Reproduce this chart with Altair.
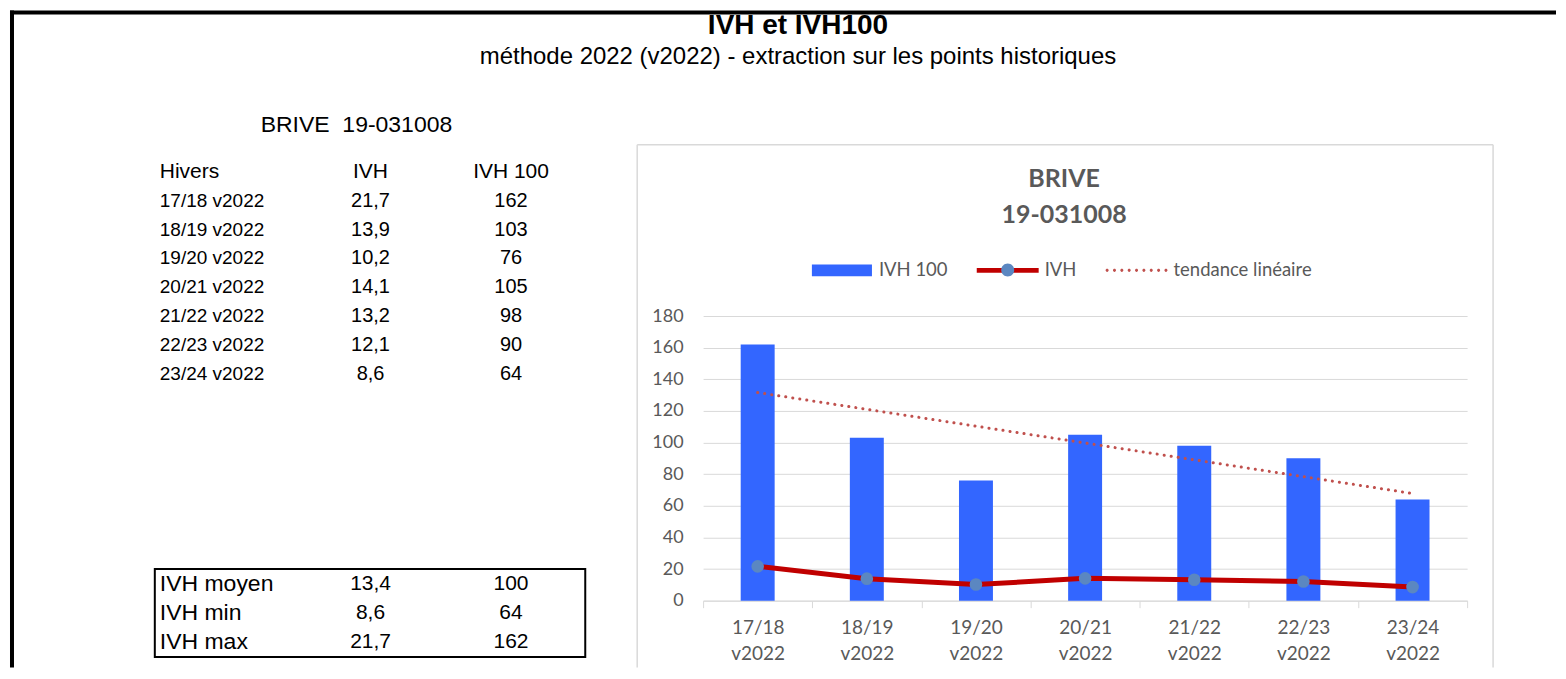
import altair as alt
import pandas as pd

# ---------------- data ----------------
hivers = ["17/18 v2022", "18/19 v2022", "19/20 v2022", "20/21 v2022",
          "21/22 v2022", "22/23 v2022", "23/24 v2022"]
ivh = [21.7, 13.9, 10.2, 14.1, 13.2, 12.1, 8.6]
ivh100 = [162, 103, 76, 105, 98, 90, 64]
headers = ["Hivers", "IVH", "IVH 100"]
summary_labels = ["IVH moyen", "IVH min", "IVH max"]
summary_ivh = [13.4, 8.6, 21.7]
summary_ivh100 = [100, 64, 162]
series_names = ["IVH 100", "IVH", "tendance linéaire"]
y_ticks = [0, 20, 40, 60, 80, 100, 120, 140, 160, 180]
main_title = "IVH et IVH100"
main_subtitle = "méthode 2022 (v2022) - extraction sur les points historiques"
station_title = "BRIVE\u00a0 19-031008"
chart_title = ["BRIVE", "19-031008"]

# ---------------- styles ----------------
FONT_T = "Liberation Sans"
FONT_C = "Lato"
GREY_TXT = "#595959"
GRID = "#D9D9D9"
BAR_C = "#3366FF"
LINE_C = "#C00000"
DOT_C = "#5B87C1"
TREND_C = "#C0504D"


def fr1(v):
    return f"{v:.1f}".replace(".", ",")


cols = ["label", "ivh", "ivh100"]
main_df = pd.DataFrame({"idx": list(range(len(hivers))), "hiver": hivers,
                        "ivh": ivh, "ivh100": ivh100})
head_df = pd.DataFrame({"row": [0, 0, 0], "col": cols, "text": headers})
rows_df = pd.DataFrame({"row": list(range(1, len(hivers) + 1)), "label": hivers,
                        "ivh": [fr1(v) for v in ivh],
                        "ivh100": [str(v) for v in ivh100]}).melt(
    id_vars="row", var_name="col", value_name="text")
sum_df = pd.DataFrame({"row": list(range(len(summary_labels))), "label": summary_labels,
                       "ivh": [fr1(v) for v in summary_ivh],
                       "ivh100": [str(v) for v in summary_ivh100]}).melt(
    id_vars="row", var_name="col", value_name="text")
one = pd.DataFrame({"k": [0]})

# ---------------- left panel: the table ----------------
LEFT_W = 422
BAND = LEFT_W / len(cols)
xcol = alt.Scale(domain=cols, paddingInner=0, paddingOuter=0)
top_y = alt.Scale(domain=[0, 7], range=[-144, 57.6], nice=False)
sum_y = alt.Scale(domain=[0, 2], range=[268, 326.7], nice=False)


def text_layer(df, filt, yscale, size, left):
    if left:
        mk = dict(align="left", dx=-BAND / 2)
    else:
        mk = dict(align="center")
    ch = alt.Chart(df).transform_filter(filt).mark_text(
        baseline="middle", font=FONT_T, fontSize=size, color="black", **mk)
    return ch.encode(x=alt.X("col:N", scale=xcol, axis=None),
                     y=alt.Y("row:Q", scale=yscale, axis=None), text="text:N")


def rule(color, width, **enc):
    return alt.Chart(one).mark_rule(color=color, strokeWidth=width).encode(
        **{k: alt.value(v) for k, v in enc.items()})


frame_left = rule("black", 4, x=-148, y=-306, y2=352)
frame_top = rule("black", 4, x=-150, x2=1398, y=-304)
box_l = rule(GRID, 1.5, x=478, y=-171.5, y2=352)
box_t = rule(GRID, 1.5, x=478, x2=1335, y=-171.5)
box_r = rule(GRID, 1.5, x=1335, y=-171.5, y2=352)

sum_box = alt.Chart(one).mark_rect(fillOpacity=0, stroke="black", strokeWidth=2).encode(
    x=alt.value(-5), x2=alt.value(426),
    y=alt.YDatum(datum=-0.5, scale=sum_y, axis=None),
    y2=alt.Y2Datum(datum=2.5))

left = alt.layer(
    frame_left, frame_top, box_l, box_t, box_r,
    text_layer(head_df, "datum.col == 'label'", top_y, 21, True),
    text_layer(head_df, "datum.col != 'label'", top_y, 21, False),
    text_layer(rows_df, "datum.col == 'label'", top_y, 19, True),
    text_layer(rows_df, "datum.col != 'label'", top_y, 20, False),
    sum_box,
    text_layer(sum_df, "datum.col == 'label'", sum_y, 23, True),
    text_layer(sum_df, "datum.col != 'label'", sum_y, 21, False),
).resolve_scale(y="independent").properties(
    width=LEFT_W, height=285,
    title=alt.Title(station_title, anchor="start", dx=253, offset=-129,
                    font=FONT_T, fontSize=23, fontWeight="normal", color="black"))

# ---------------- right panel: the chart ----------------
x_axis = alt.Axis(title=None, labelAngle=0, labelExpr="split(datum.label, ' ')",
                  labelFont=FONT_C, labelFontSize=19, labelColor=GREY_TXT,
                  labelLineHeight=26, labelPadding=11, ticks=True, tickSize=7,
                  tickColor=GRID, tickBand="extent", domainColor=GRID, grid=False)
y_axis = alt.Axis(title=None, values=y_ticks, grid=True, gridColor=GRID, gridWidth=1,
                  domain=False, ticks=False, tickSize=0, labelPadding=20,
                  labelFont=FONT_C, labelFontSize=18, labelColor=GREY_TXT)
x_enc = alt.X("hiver:N", sort=hivers,
              scale=alt.Scale(domain=hivers, paddingInner=0, paddingOuter=0),
              axis=x_axis)
y_scale = alt.Scale(domain=[0, 180], nice=False)

base = alt.Chart(main_df)
bars = base.mark_bar(color=BAR_C, width=34).encode(
    x=x_enc, y=alt.Y("ivh100:Q", scale=y_scale, axis=y_axis))
line = base.mark_line(color=LINE_C, strokeWidth=5).encode(
    x=x_enc, y=alt.Y("ivh:Q", scale=y_scale, axis=y_axis))
pts = base.mark_point(filled=True, color=DOT_C, size=160, opacity=1).encode(
    x=x_enc, y=alt.Y("ivh:Q", scale=y_scale, axis=y_axis))
trend = base.transform_regression("idx", "ivh100", method="linear").transform_lookup(
    lookup="idx", from_=alt.LookupData(main_df, "idx", ["hiver"])
).mark_line(color=TREND_C, strokeWidth=3, strokeDash=[0.1, 7], strokeCap="round").encode(
    x=x_enc, y=alt.Y("ivh100:Q", scale=y_scale, axis=y_axis))


def circ(cx, cy, r):
    return (f"M{cx + r:.4f},{cy:.4f}A{r:.4f},{r:.4f},0,1,1,{cx - r:.4f},{cy:.4f}"
            f"A{r:.4f},{r:.4f},0,1,1,{cx + r:.4f},{cy:.4f}Z")


path_bar = "M-0.97,-0.19H0.97V0.19H-0.97Z"
path_line = "M-1,-0.075H1V0.075H-1Z"
path_dots = "".join(circ(-0.95 + i * 0.2375, 0, 0.05) for i in range(9))
path_dot = circ(0, 0, 0.21)

legA_props = dict(orient="none", legendX=108, legendY=-77, direction="horizontal",
                  title=None, symbolSize=3844, symbolStrokeWidth=0, symbolOpacity=1,
                  labelFont=FONT_C, labelFontSize=18.5, labelColor=GREY_TXT,
                  labelOffset=6, columnPadding=29, padding=0)
legA = alt.Chart(pd.DataFrame({"series": series_names})).transform_filter("false").mark_point(
    filled=True, opacity=1).encode(
    color=alt.Color("series:N", scale=alt.Scale(domain=series_names,
                                                range=[BAR_C, LINE_C, TREND_C]),
                    legend=alt.Legend(**legA_props)),
    shape=alt.Shape("series:N", scale=alt.Scale(domain=series_names,
                                                range=[path_bar, path_line, path_dots]),
                    legend=alt.Legend(**legA_props)))
legB = alt.Chart(pd.DataFrame({"dot": ["IVH"]})).transform_filter("false").mark_point(
    filled=True, opacity=1, color=DOT_C, shape=path_dot).encode(
    size=alt.Size("dot:O", scale=alt.Scale(domain=["IVH"], range=[3844, 3844]),
                  legend=alt.Legend(orient="none", legendX=274, legendY=-77,
                                    direction="horizontal", title=None, labelExpr="''",
                                    symbolType=path_dot, symbolFillColor=DOT_C,
                                    symbolStrokeWidth=0, symbolOpacity=1, padding=0)))

right = alt.layer(bars, line, pts, trend, legA, legB).properties(
    width=765, height=285,
    title=alt.Title(chart_title, anchor="middle", dx=-21, offset=11, font=FONT_C,
                    fontSize=25, fontWeight="bold", color=GREY_TXT, lineHeight=36))

chart = alt.hconcat(left, right, spacing=122, bounds="flush").resolve_legend(
    color="independent", shape="independent", size="independent"
).properties(
    padding=0,
    title=alt.Title(main_title, subtitle=main_subtitle, anchor="middle", frame="bounds",
                    dx=15, offset=-61, font=FONT_T, fontSize=28, fontWeight="bold",
                    color="black", subtitleFont=FONT_T, subtitleFontSize=24,
                    subtitleColor="black", subtitlePadding=5)
).configure_view(stroke=None)

chart.save("out.html", embed_options={"renderer": "svg", "actions": False})
